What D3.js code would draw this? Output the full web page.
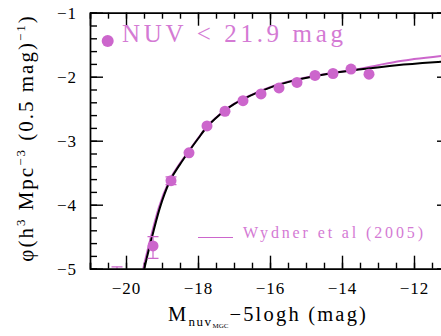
<!DOCTYPE html>
<meta charset="utf-8">
<style>
  body { margin: 0; background: #fff; }
  svg { font-family: "Liberation Serif", "DejaVu Serif", serif; }
  .axis path, .axis line { stroke: #000; stroke-width: 1.4; fill: none; }
  .axis text { fill: #000; font-size: 17px; letter-spacing: 1px; }
</style>
<body>
<svg id="lf" width="441" height="336"></svg>
<script src="https://d3js.org/d3.v7.min.js"></script>
<script>
// measured luminosity function points (mag, log phi)
var mags = [-20.25, -19.25, -18.75, -18.25, -17.75, -17.25, -16.75, -16.25, -15.75, -15.25, -14.75, -14.25, -13.75, -13.25];
var logPhi = [-5.45, -4.645, -3.625, -3.19, -2.77, -2.54, -2.375, -2.27, -2.175, -2.09, -1.98, -1.95, -1.88, -1.96];
var errHi = [-4.97, -4.50, -3.565, null, null, null, null, null, null, null, null, null, null, null];
var errLo = [-5.9, -4.84, -3.685, null, null, null, null, null, null, null, null, null, null, null];

// fitted curve (black)
var fitM = [-19.52, -19.49, -19.28, -19.06, -18.78, -18.5, -18.27, -18.0, -17.76, -17.5, -17.27, -17.0, -16.56, -16.0, -15.26, -14.33, -13.41, -12.48, -11.25, -11.0];
var fitPhi = [-5.08, -5.0, -4.51, -4.05, -3.63, -3.37, -3.18, -2.97, -2.79, -2.645, -2.535, -2.43, -2.3, -2.17, -2.05, -1.95, -1.88, -1.82, -1.765, -1.755];

// Wydner et al (2005) curve (magenta)
var wydM = [-19.55, -19.52, -19.31, -19.09, -18.8, -18.52, -18.28, -18.0, -17.76, -17.5, -17.27, -17.0, -16.56, -16.0, -15.26, -14.33, -13.75, -13.0, -12.5, -12.0, -11.25, -11.0];
var wydPhi = [-5.08, -5.0, -4.51, -4.05, -3.63, -3.37, -3.18, -2.965, -2.785, -2.64, -2.53, -2.425, -2.295, -2.165, -2.045, -1.945, -1.9, -1.82, -1.765, -1.725, -1.675, -1.66];

var xTicks = [-20, -18, -16, -14, -12];
var yTicks = [-1, -2, -3, -4, -5];

var svg = d3.select("#lf");
var mLeft = 90, mRight = 450, mTop = 12.7, mBottom = 268.7;
var pink = "#cc66cc", pinkText = "#d47ad4";

var x = d3.scaleLinear().domain([-21, -11]).range([mLeft, mRight]);
var y = d3.scaleLinear().domain([-5, -1]).range([mBottom, mTop]);

svg.append("clipPath").attr("id", "plotclip")
  .append("rect").attr("x", mLeft).attr("y", mTop)
  .attr("width", mRight - mLeft).attr("height", mBottom - mTop);

var plot = svg.append("g").attr("clip-path", "url(#plotclip)");

var line = d3.line().curve(d3.curveMonotoneX)
  .x(function(d) { return x(d[0]); })
  .y(function(d) { return y(d[1]); });

plot.append("path")
  .datum(d3.zip(wydM, wydPhi))
  .attr("d", line)
  .attr("fill", "none").attr("stroke", pink).attr("stroke-width", 2);

plot.append("path")
  .datum(d3.zip(fitM, fitPhi))
  .attr("d", line)
  .attr("fill", "none").attr("stroke", "#000").attr("stroke-width", 2);

var pts = mags.map(function(m, i) {
  return { m: m, v: logPhi[i], hi: errHi[i], lo: errLo[i] };
});

var eb = plot.selectAll(".eb").data(pts.filter(function(d) { return d.hi !== null; }))
  .enter().append("g").attr("stroke", pink).attr("stroke-width", 1.2);
eb.append("line")
  .attr("x1", function(d) { return x(d.m); }).attr("x2", function(d) { return x(d.m); })
  .attr("y1", function(d) { return y(d.hi); }).attr("y2", function(d) { return y(d.lo); });
eb.append("line")
  .attr("x1", function(d) { return x(d.m) - 5.5; }).attr("x2", function(d) { return x(d.m) + 5.5; })
  .attr("y1", function(d) { return y(d.hi); }).attr("y2", function(d) { return y(d.hi); });
eb.append("line")
  .attr("x1", function(d) { return x(d.m) - 5.5; }).attr("x2", function(d) { return x(d.m) + 5.5; })
  .attr("y1", function(d) { return y(d.lo); }).attr("y2", function(d) { return y(d.lo); });

plot.selectAll(".dot").data(pts)
  .enter().append("circle")
  .attr("cx", function(d) { return x(d.m); })
  .attr("cy", function(d) { return y(d.v); })
  .attr("r", 5.5)
  .attr("fill", pink);

// axes: major + minor ticks, all pointing inward
function minor(domain, step) {
  var out = [];
  for (var v = domain[0]; v <= domain[1] + 1e-9; v += step) out.push(+v.toFixed(2));
  return out;
}
var xMinor = minor([-21, -11], 0.5);
var yMinor = minor([-5, -1], 0.2);

svg.append("g").attr("class", "axis").attr("transform", "translate(0," + mBottom + ")")
  .call(d3.axisBottom(x).tickValues(xMinor).tickSize(-6).tickFormat(""));
svg.append("g").attr("class", "axis").attr("transform", "translate(0," + mBottom + ")")
  .call(d3.axisBottom(x).tickValues(xTicks).tickSize(-13).tickSizeOuter(0).tickPadding(13));
svg.append("g").attr("class", "axis").attr("transform", "translate(0," + mTop + ")")
  .call(d3.axisTop(x).tickValues(xMinor).tickSize(-6).tickFormat(""));
svg.append("g").attr("class", "axis").attr("transform", "translate(0," + mTop + ")")
  .call(d3.axisTop(x).tickValues(xTicks).tickSize(-13).tickFormat(""));

svg.append("g").attr("class", "axis").attr("transform", "translate(" + mLeft + ",0)")
  .call(d3.axisLeft(y).tickValues(yMinor).tickSize(-7).tickFormat(""));
svg.append("g").attr("class", "axis").attr("transform", "translate(" + mLeft + ",0)")
  .call(d3.axisLeft(y).tickValues(yTicks).tickSize(-13).tickSizeOuter(0).tickPadding(13)
    .tickFormat(d3.format("d")));
svg.append("g").attr("class", "axis").attr("transform", "translate(" + mRight + ",0)")
  .call(d3.axisRight(y).tickValues(yMinor).tickSize(-7).tickFormat(""));
svg.append("g").attr("class", "axis").attr("transform", "translate(" + mRight + ",0)")
  .call(d3.axisRight(y).tickValues(yTicks).tickSize(-13).tickFormat(""));

svg.selectAll(".axis").attr("font-family", null).attr("font-size", null);

// axis titles
var xt = svg.append("text").attr("x", 168).attr("y", 320.7)
  .attr("font-size", 20.5).attr("fill", "#000").attr("letter-spacing", 2.2);
xt.append("tspan").text("M");
xt.append("tspan").attr("font-size", 13).attr("dy", 5).attr("letter-spacing", 1.5).text("nuv");
xt.append("tspan").attr("font-size", 7).attr("dy", 2).attr("letter-spacing", 0).text("MGC");
xt.append("tspan").attr("dy", -7).attr("dx", 1).text("\u22125logh (mag)");

var yt = svg.append("text")
  .attr("transform", "translate(33,138) rotate(-90)")
  .attr("text-anchor", "middle").attr("font-size", 21).attr("fill", "#000")
  .attr("letter-spacing", 2);
yt.append("tspan").text("\u03c6(h");
yt.append("tspan").attr("font-size", 13).attr("dy", -8).text("3");
yt.append("tspan").attr("dy", 8).text(" Mpc");
yt.append("tspan").attr("font-size", 13).attr("dy", -8).text("\u22123");
yt.append("tspan").attr("dy", 8).text(" (0.5 mag)");
yt.append("tspan").attr("font-size", 13).attr("dy", -8).text("\u22121");
yt.append("tspan").attr("dy", 8).text(")");

// key
svg.append("circle").attr("cx", 107.7).attr("cy", 41).attr("r", 6).attr("fill", pink);
svg.append("text").attr("x", 122).attr("y", 41.7)
  .attr("font-size", 25).attr("fill", pinkText)
  .attr("textLength", 221).attr("lengthAdjust", "spacing")
  .text("NUV < 21.9 mag");

svg.append("line").attr("x1", 198).attr("x2", 233).attr("y1", 237.5).attr("y2", 237.5)
  .attr("stroke", pink).attr("stroke-width", 1.2);
svg.append("text").attr("x", 243).attr("y", 238.3)
  .attr("font-size", 16).attr("fill", pinkText)
  .attr("textLength", 180).attr("lengthAdjust", "spacing")
  .text("Wydner et al (2005)");
</script>
</body>
